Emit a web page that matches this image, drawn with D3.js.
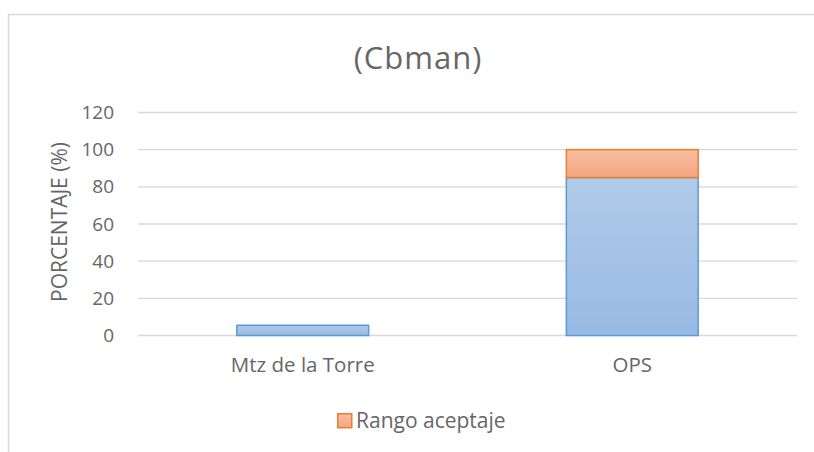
<!DOCTYPE html>
<html>
<head>
<meta charset="utf-8">
<script src="https://cdn.jsdelivr.net/npm/d3@7"></script>
<style>
  body { margin: 0; background: #fff; }
  svg { display: block; font-family: "Open Sans", Lato, sans-serif; }
</style>
</head>
<body>
<div id="chart"></div>
<script>
// data
const categories = ["Mtz de la Torre", "OPS"];
const baseValues = [5.5, 85];      // serie azul (sin leyenda)
const rangoValues = [0, 15];       // Rango aceptaje (apilado)
const yTicks = [0, 20, 40, 60, 80, 100, 120];

const FONT = "'Open Sans', Lato, sans-serif";
const TXT = "#666666";
const W = 814, H = 452;
const m = { top: 112.5, right: 17, bottom: 116.5, left: 138 };
const innerW = W - m.left - m.right;
const innerH = H - m.top - m.bottom;

const svg = d3.select("#chart").append("svg")
  .attr("width", W).attr("height", H);

const defs = svg.append("defs");
const gradBlue = defs.append("linearGradient").attr("id", "gBlue")
  .attr("x1", 0).attr("y1", 0).attr("x2", 0).attr("y2", 1);
gradBlue.append("stop").attr("offset", "0%").attr("stop-color", "#b1cbe9");
gradBlue.append("stop").attr("offset", "100%").attr("stop-color", "#98bae3");
const gradOr = defs.append("linearGradient").attr("id", "gOr")
  .attr("x1", 0).attr("y1", 0).attr("x2", 0).attr("y2", 1);
gradOr.append("stop").attr("offset", "0%").attr("stop-color", "#f7bea0");
gradOr.append("stop").attr("offset", "100%").attr("stop-color", "#f4a683");

// marco del gráfico
svg.append("rect")
  .attr("x", 8.5).attr("y", 14.5)
  .attr("width", W + 20).attr("height", H + 20)
  .attr("fill", "#fff").attr("stroke", "#d9d9d9").attr("stroke-width", 1.5);

const g = svg.append("g").attr("transform", `translate(${m.left},${m.top})`);

const x = d3.scaleBand().domain(categories).range([0, innerW])
  .paddingInner(0.6).paddingOuter(0.3);
const y = d3.scaleLinear().domain([0, 120]).range([innerH, 0]);

// grid
g.append("g").selectAll("line").data(yTicks).enter().append("line")
  .attr("x1", 0).attr("x2", innerW)
  .attr("y1", d => y(d)).attr("y2", d => y(d))
  .attr("stroke", "#d9d9d9").attr("stroke-width", 1.3);

// eje Y
const yAxis = g.append("g")
  .call(d3.axisLeft(y).tickValues(yTicks).tickSize(0).tickPadding(24))
  .attr("font-family", FONT);
yAxis.select(".domain").remove();
yAxis.selectAll("text").attr("fill", TXT).attr("font-size", 19);

// eje X
const xAxis = g.append("g").attr("transform", `translate(0,${innerH})`)
  .call(d3.axisBottom(x).tickSize(0).tickPadding(22))
  .attr("font-family", FONT);
xAxis.select(".domain").remove();
xAxis.selectAll("text").attr("fill", TXT).attr("font-size", 20.5);

// barras base
g.append("g").selectAll("rect").data(categories).enter().append("rect")
  .attr("x", d => x(d))
  .attr("y", (d, i) => y(baseValues[i]))
  .attr("width", x.bandwidth())
  .attr("height", (d, i) => y(0) - y(baseValues[i]))
  .attr("fill", "url(#gBlue)")
  .attr("stroke", "#5b9bd5").attr("stroke-width", 1.5);

// barras Rango aceptaje
g.append("g").selectAll("rect").data(categories.filter((d, i) => rangoValues[i] > 0)).enter().append("rect")
  .attr("x", d => x(d))
  .attr("y", d => { const i = categories.indexOf(d); return y(baseValues[i] + rangoValues[i]); })
  .attr("width", x.bandwidth())
  .attr("height", d => { const i = categories.indexOf(d); return y(baseValues[i]) - y(baseValues[i] + rangoValues[i]); })
  .attr("fill", "url(#gOr)")
  .attr("stroke", "#ed7d31").attr("stroke-width", 1.5);

// título
svg.append("text")
  .attr("x", 418).attr("y", 69)
  .attr("text-anchor", "middle")
  .attr("fill", TXT).attr("font-size", 31).attr("letter-spacing", 1)
  .text("(Cbman)");

// título eje Y
svg.append("text")
  .attr("transform", `translate(67,222) rotate(-90)`)
  .attr("text-anchor", "middle")
  .attr("fill", TXT).attr("font-size", 21)
  .text("PORCENTAJE (%)");

// leyenda
const leg = svg.append("g").attr("transform", "translate(337,413)");
leg.append("rect").attr("x", 0.75).attr("y", 0.75).attr("width", 14).attr("height", 14)
  .attr("fill", "url(#gOr)").attr("stroke", "#ed7d31").attr("stroke-width", 1.5);
leg.append("text").attr("x", 19).attr("y", 15)
  .attr("fill", TXT).attr("font-size", 21)
  .text("Rango aceptaje");
</script>
</body>
</html>
